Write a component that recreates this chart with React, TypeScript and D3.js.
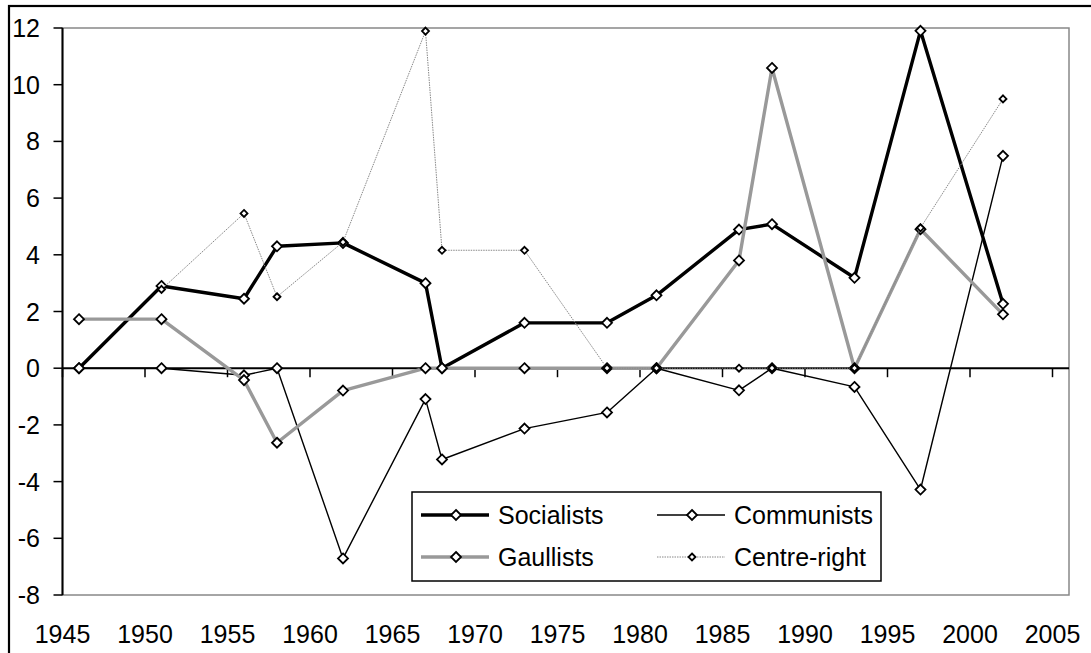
import React, { useEffect, useRef } from "react";
import * as d3 from "d3";

// election years and change in vote share per party
const years = [1946, 1951, 1956, 1958, 1962, 1967, 1968, 1973, 1978, 1981, 1986, 1988, 1993, 1997, 2002];
const socialists = [0, 2.9, 2.45, 4.3, 4.42, 3.0, 0, 1.6, 1.6, 2.57, 4.89, 5.08, 3.19, 11.9, 2.27];
const communists = [0, 0, -0.25, 0, -6.71, -1.09, -3.22, -2.13, -1.56, 0, -0.78, 0, -0.66, -4.28, 7.49];
const gaullists = [1.73, 1.73, -0.42, -2.63, -0.79, 0, 0, 0, 0, 0, 3.8, 10.59, 0, 4.9, 1.9];
// centre-right starts in 1951
const centreRightYears = [1951, 1956, 1958, 1962, 1967, 1968, 1973, 1978, 1981, 1986, 1988, 1993, 1997, 2002];
const centreRight = [2.78, 5.46, 2.52, 4.45, 11.89, 4.16, 4.16, 0, 0, 0, 0, 0, 4.95, 9.5];

const xTicks = [1945, 1950, 1955, 1960, 1965, 1970, 1975, 1980, 1985, 1990, 1995, 2000, 2005];
const yTicks = [-8, -6, -4, -2, 0, 2, 4, 6, 8, 10, 12];

const series = [
  { name: "Socialists", xs: years, ys: socialists, stroke: "#000", width: 3.4, dash: null, r: 5 },
  { name: "Communists", xs: years, ys: communists, stroke: "#000", width: 1.4, dash: null, r: 5 },
  { name: "Gaullists", xs: years, ys: gaullists, stroke: "#999", width: 3.4, dash: null, r: 5 },
  { name: "Centre-right", xs: centreRightYears, ys: centreRight, stroke: "#888", width: 1, dash: "1.5,1", r: 3.5 },
];

const App = () => {
  const ref = useRef(null);

  useEffect(() => {
    const svg = d3.select(ref.current);
    svg.selectAll("*").remove();

    const width = 1091, height = 653;
    const left = 62.5, right = 1069, top = 28, bottom = 595;
    const font = "'Liberation Sans', Arial, sans-serif";
    const fs = 25;

    const x = d3.scaleLinear().domain([1945, 2006]).range([left, right]);
    const y = d3.scaleLinear().domain([-8, 12]).range([bottom, top]);

    svg.attr("width", width).attr("height", height);

    // outer frame
    svg.append("rect")
      .attr("x", 9).attr("y", 6)
      .attr("width", 1200).attr("height", 800)
      .attr("fill", "#fff").attr("stroke", "#000").attr("stroke-width", 2.2);

    // plot area border (gray)
    svg.append("rect")
      .attr("x", left).attr("y", top)
      .attr("width", right - left).attr("height", bottom - top)
      .attr("fill", "none").attr("stroke", "#888").attr("stroke-width", 1.5);

    // y axis
    const yAxis = svg.append("g");
    yAxis.append("line")
      .attr("x1", left).attr("x2", left).attr("y1", top).attr("y2", bottom)
      .attr("stroke", "#000").attr("stroke-width", 2);
    yAxis.selectAll(".yt")
      .data(yTicks)
      .enter()
      .append("line")
      .attr("x1", left - 9).attr("x2", left)
      .attr("y1", (d) => y(d)).attr("y2", (d) => y(d))
      .attr("stroke", "#000").attr("stroke-width", 1.5);
    yAxis.selectAll(".yl")
      .data(yTicks)
      .enter()
      .append("text")
      .attr("x", 40)
      .attr("y", (d) => y(d))
      .attr("dy", "0.36em")
      .attr("text-anchor", "end")
      .attr("font-family", font)
      .attr("font-size", fs)
      .text((d) => d);

    // x axis along zero
    const xAxis = svg.append("g");
    xAxis.append("line")
      .attr("x1", left).attr("x2", right).attr("y1", y(0)).attr("y2", y(0))
      .attr("stroke", "#000").attr("stroke-width", 2);
    xAxis.selectAll(".xt")
      .data(xTicks)
      .enter()
      .append("line")
      .attr("x1", (d) => x(d)).attr("x2", (d) => x(d))
      .attr("y1", y(0)).attr("y2", y(0) + 9)
      .attr("stroke", "#000").attr("stroke-width", 1.5);
    xAxis.selectAll(".xl")
      .data(xTicks)
      .enter()
      .append("text")
      .attr("x", (d) => x(d))
      .attr("y", 643)
      .attr("text-anchor", "middle")
      .attr("font-family", font)
      .attr("font-size", fs)
      .text((d) => d);

    const diamond = (cx, cy, r) => `M${cx},${cy - r}L${cx + r},${cy}L${cx},${cy + r}L${cx - r},${cy}Z`;

    // series
    series.forEach((s) => {
      const pts = s.xs.map((yr, i) => [yr, s.ys[i]]);
      const line = d3.line().x((d) => x(d[0])).y((d) => y(d[1]));
      const g = svg.append("g");
      g.append("path")
        .datum(pts)
        .attr("fill", "none")
        .attr("stroke", s.stroke)
        .attr("stroke-width", s.width)
        .attr("stroke-linejoin", "round")
        .attr("stroke-dasharray", s.dash)
        .attr("d", line);
      g.selectAll("path.m")
        .data(pts)
        .enter()
        .append("path")
        .attr("class", "m")
        .attr("d", (d) => diamond(x(d[0]), y(d[1]), s.r))
        .attr("fill", "#fff")
        .attr("stroke", "#000")
        .attr("stroke-width", 1.8);
    });

    // legend
    const lg = svg.append("g");
    lg.append("rect")
      .attr("x", 412).attr("y", 492)
      .attr("width", 469).attr("height", 89)
      .attr("fill", "#fff").attr("stroke", "#000").attr("stroke-width", 1.5);
    const cols = [421, 657];
    const rows = [515, 557];
    series.forEach((s, i) => {
      const lx = cols[i % 2], ly = rows[Math.floor(i / 2)];
      lg.append("line")
        .attr("x1", lx).attr("x2", lx + 68)
        .attr("y1", ly).attr("y2", ly)
        .attr("stroke", s.stroke).attr("stroke-width", s.width)
        .attr("stroke-dasharray", s.dash);
      lg.append("path")
        .attr("d", diamond(lx + 35, ly, s.r))
        .attr("fill", "#fff").attr("stroke", "#000").attr("stroke-width", 1.8);
      lg.append("text")
        .attr("x", lx + 77).attr("y", ly)
        .attr("dy", "0.36em")
        .attr("font-family", font)
        .attr("font-size", fs)
        .text(s.name);
    });
  }, []);

  return <svg ref={ref} style={{ position: "absolute", left: 0, top: 0 }}></svg>;
};

export default App;
